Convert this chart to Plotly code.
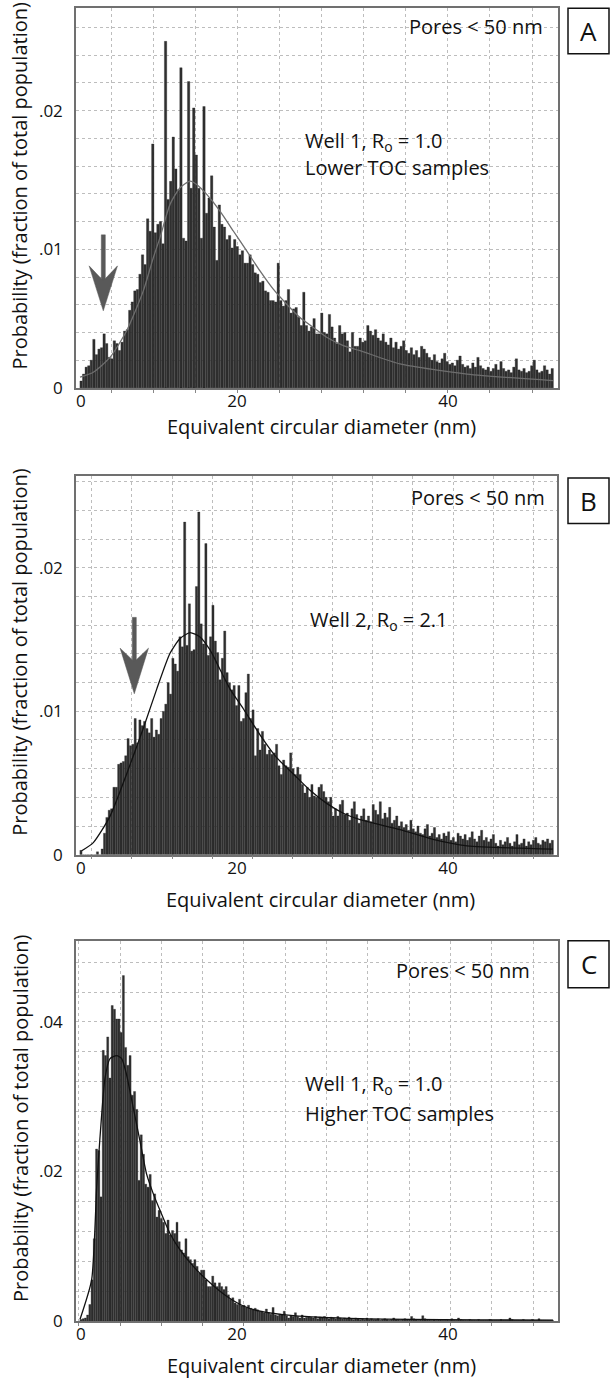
import plotly.graph_objects as go

W, H = 611, 1389

# ---------------- data ----------------
x_range = [4.74, 50.43]
bin_start = 5.1
bin_end = 50.0
x_tick_vals = [5.2, 20, 40]
x_tick_text = ["0", "20", "40"]

a_prob = [
    .0005, .001, .0015, .0016, .002, .0035, .0024, .0028, .0029, .0039,
    .0032, .0022, .0021, .0034, .0032, .0027, .0033, .0041, .0042, .0056,
    .0062, .007, .0071, .0082, .0096, .0089, .0122, .0113, .0176, .0112,
    .0118, .012, .0104, .025, .0136, .0149, .0181, .0158, .0143, .0231,
    .0108, .0106, .0221, .0144, .0202, .0168, .0144, .0108, .0203, .0126,
    .0137, .0153, .0116, .0092, .0132, .0118, .0116, .0107, .011, .0101,
    .0107, .0102, .0096, .0099, .009, .009, .0096, .0089, .0083, .0082,
    .0076, .0077, .007, .0069, .0063, .0063, .0062, .009, .0063, .0059,
    .0063, .0071, .0054, .0057, .0058, .0051, .0045, .0069, .0045, .0041,
    .0044, .005, .0039, .0039, .0054, .004, .0039, .0053, .0044, .0036,
    .0032, .0045, .0039, .004, .0034, .0026, .004, .003, .003, .0036,
    .0033, .0034,
    .0045, .0041, .0038, .0042, .0036, .0034, .0039, .0033, .0031, .0036,
    .0029, .0033, .0028, .0030, .0034, .0027, .0025, .0029, .0024, .0027,
    .0022, .0030, .0028, .0025, .0022, .0020, .0024, .0019, .0018, .0021,
    .0025, .0019, .0017, .0018, .0016, .0020, .0023, .0017, .0015, .0016,
    .0014, .0018, .0015, .0022, .0016, .0014, .0013, .0015, .0012, .0014,
    .0017, .0013, .0019, .0014, .0012, .0013, .0011, .0015, .0021, .0013,
    .0012, .0014, .0011, .0012, .0016, .0020, .0013, .0011, .0012, .0016,
    .0013, .0010, .0014,
]

b_prob = [
    .0003, 0, 0, 0, 0, 0, 0, .0002, 0,
    .0004, .0015, .0026, .0031, .0032, .0047, .0047, .0063, .0064, .0065,
    .0069, .0081, .0076, .0077, .0095, .0078, .0094, .009, .0093, .0088,
    .0085, .0095, .0082, .0087, .0084, .0095, .01, .0105, .012, .0112,
    .0137, .0133, .0128, .0152, .0145, .0232, .0146, .0175, .0142, .0143,
    .0187, .0239, .0161, .0147, .0217, .0139, .0152, .0174, .0149, .0141,
    .0122, .0137, .0156, .0127, .012, .0115, .0118, .0104, .0118, .0093,
    .0095, .0113, .0126, .0095, .0101, .0069, .0088, .0073, .0086, .0077,
    .007, .0073, .007, .0071, .0077, .0062, .0056, .0066, .0062, .0061,
    .0071, .006, .0056, .0061, .0056, .0049, .0043, .0047, .004, .0049,
    .0041, .004, .0047, .0049, .0044, .004, .0037, .004, .0027, .0032,
    .0027, .0035, .0038, .0028, .0029, .0024, .0032, .0037, .0028, .0022,
    .0027, .0032, .0024, .0027, .0023,
    .0035, .0031, .0028, .0037, .0025, .0029, .0026, .0033, .0022, .0024,
    .0027, .0020, .0023, .0019, .0021, .0017, .0024, .0018, .0016, .0020,
    .0015, .0014, .0018, .0021, .0013, .0015, .0019, .0012, .0014, .0011,
    .0015, .0013, .0016, .0010, .0012, .0009, .0015, .0013, .0011, .0014,
    .0010, .0012, .0016, .0011, .0009, .0013, .0017, .0010, .0012, .0009,
    .0011, .0014, .0008, .0006, .0010, .0007, .0009, .0012, .0008, .0006,
    .0009, .0014, .0007, .0008, .0011, .0006, .0009, .0007, .0010, .0012,
    .0008, .0007, .0010, .0009, .0011, .0008, .0010,
]

c_prob = [
    .0002, .0003, .0004, .0008, .0022, .0055, .011, .023, .0228, .0166,
    .0362, .0355, .038, .0325, .0422, .0417, .0404, .0404, .0386, .0462,
    .0366, .0342, .0355, .0302, .0307, .0283, .0188, .0249, .0223, .0183,
    .0179, .0196, .0161, .017, .0139, .0148, .0137, .0132, .0117, .0135,
    .0115, .0121, .0117, .0132, .0106, .0095, .0091, .011, .0086, .0082,
    .0077, .0082, .0073, .0064, .0068, .0068, .0055, .0046, .0046, .006,
    .0051, .0046, .0051, .0046, .0042, .0046, .0035, .0029, .0031, .0024,
    .0022, .0029, .002, .0021, .0018, .0021, .0017, .0015, .0017, .0015,
    .0013, .0013, .0011, .0016, .0011, .0009, .0018, .0008, .0007, .0009,
    .0008, .0013, .0007, .0004, .0007, .0006, .0011, .0006, .0004, .0008,
    .0004, .0005, .0006,
    .0005, .0004, .0006, .0003, .0005, .0004, .0006, .0004, .0003, .0005,
    .0004, .0003, .0006, .0004, .0003, .0004, .0003, .0005, .0003, .0002,
    .0004, .0003, .0002,
    .0003, .0002, .0004, .0002, .0003, .0002, .0002, .0003, .0001, .0002,
    .0003, .0002, .0001, .0002, .0004, .0002, .0002, .0001, .0002, .0003,
    .0002, .0002, .0006, .0003, .0002, .0001, .0002, .0007, .0003, .0002,
    .0002, .0001, .0002, .0001, .0002, .0002, .0001, .0001, .0002, .0001,
    .0003, .0001, .0001, .0004, .0002, .0001, .0001, .0001, .0002, .0001,
    .0001, .0001, .0002, .0001, .0001, .0001, .0001, .0002, .0001, .0001,
    .0001, .0001, .0002, .0001, .0001, .0001, .0004, .0002, .0001, .0001,
    .0001, .0001, .0002, .0001, .0001, .0001, .0002, .0001, .0001, .0003,
    .0001, .0001, .0001, .0001, .0001, .0001,
]

a_fit_x = [5.12, 6.38, 7.96, 9.54, 11.12, 12.07, 12.7, 13.65, 14.6, 15.55, 16.18, 17.13,
           18.39, 19.65, 20.92, 22.18, 23.44, 24.71, 25.97, 27.23, 28.5, 30.08, 31.66,
           35.45, 41.8, 49.95]
a_fit_y = [.00077, .00113, .0022, .00412, .0070, .0094, .01084, .01324, .01444, .01492,
           .01468, .01396, .01276, .01132, .00988, .00844, .00712, .00604, .00508, .00436,
           .00365, .00305, .00269, .00173, .001, .00053]

b_fit_x = [5.28, 6.38, 7.96, 9.54, 11.12, 12.39, 13.65, 14.6, 15.55, 16.49, 17.44, 18.39,
           19.34, 20.6, 22.18, 23.76, 25.34, 26.92, 28.5, 30.08, 31.66, 35.45, 38.58,
           41.8, 49.95]
b_fit_y = [.00027, .00084, .00267, .00563, .00882, .01155, .01405, .01508, .01549, .01519,
           .01428, .01292, .01155, .01018, .00836, .00677, .00563, .00449, .00358, .00289,
           .00244, .00175, .00107, .00062, .00039]

c_fit_x = [5.12, 6.22, 6.7, 7.01, 7.49, 7.96, 8.6, 9.07, 9.54, 10.17, 10.8, 11.44, 12.07,
           12.7, 13.65, 14.6, 15.86, 17.44, 19.02, 20.6, 22.18, 25.34, 31.66, 49.95]
c_fit_y = [.00022, .0055, .0179, .0245, .0325, .0351, .0355, .0351, .0329, .0285, .0241,
           .0196, .017, .0148, .0117, .0095, .0073, .0051, .0033, .002, .0013, .0007, .0003,
           .0001]

# ---------------- layout helpers ----------------
FONT = "Open Sans"
TXT = 20
TICK = 17


def fx(px):
    return px / W


def fy(py):
    return 1 - py / H


def nm(px):
    return (px - 26) / 10.55


panels = [
    dict(key="A", probs=a_prob, fx_=a_fit_x, fy_=a_fit_y, fitcolor="#6e6e6e",
         px=(76, 558), py=(8.3, 391), ymax=0.02739,
         yt=[0, 0.01, 0.02], ytt=["0", ".01", ".02"], ygrid=0.002,
         gx0=nm(111.7), gdx=42.03 / 10.55,
         well=["Well 1, R<sub>o</sub> = 1.0", "Lower TOC samples"], wellx=303, welly=[143, 169],
         pores=(545, 27), box=(568, 8.3, 609, 54.3),
         arrow=(103.3, 236.7, 268, 283, 313.3), xtitle_y=430, ytitle_y=188),
    dict(key="B", probs=b_prob, fx_=b_fit_x, fy_=b_fit_y, fitcolor="#111111",
         px=(76, 557), py=(479.3, 861.5), ymax=0.02645,
         yt=[0, 0.01, 0.02], ytt=["0", ".01", ".02"], ygrid=0.002,
         gx0=nm(91.7), gdx=40.15 / 10.55,
         well=["Well 2, R<sub>o</sub> = 2.1"], wellx=308, welly=[625],
         pores=(546.7, 501.7), box=(568, 481.7, 609, 527.7),
         arrow=(134.3, 622.3, 653.3, 667, 699.3), xtitle_y=907, ytitle_y=658),
    dict(key="C", probs=c_prob, fx_=c_fit_x, fy_=c_fit_y, fitcolor="#111111",
         px=(76, 558), py=(948.3, 1331.5), ymax=0.05086,
         yt=[0, 0.02, 0.04], ytt=["0", ".02", ".04"], ygrid=0.004,
         gx0=nm(120), gdx=41.33 / 10.55,
         well=["Well 1, R<sub>o</sub> = 1.0", "Higher TOC samples"], wellx=303, welly=[1093, 1122],
         pores=(531.7, 978.3), box=(568, 948.3, 609, 995.7),
         arrow=None, xtitle_y=1376, ytitle_y=1128),
]

fig = go.Figure()
annotations = []
shapes = []

for i, p in enumerate(panels):
    sfx = "" if i == 0 else str(i + 1)
    xa, ya = "x" + sfx, "y" + sfx
    n = len(p["probs"])
    w = (bin_end - bin_start) / n
    centers = [bin_start + w * (k + 0.5) for k in range(n)]
    fig.add_trace(go.Bar(x=centers, y=p["probs"], width=w * 0.92,
                         marker=dict(color="#303030", line=dict(color="#1a1a1a", width=0.3)),
                         xaxis=xa, yaxis=ya, showlegend=False, hoverinfo="skip"))
    fig.add_trace(go.Scatter(x=p["fx_"], y=p["fy_"], mode="lines",
                             line=dict(color=p["fitcolor"], width=1.3, shape="spline", smoothing=0.6),
                             xaxis=xa, yaxis=ya, showlegend=False, hoverinfo="skip"))

    x0p, x1p = p["px"]
    ytop, ybot = p["py"]
    xr = [nm(x0p), nm(x1p)]
    fig.update_layout(**{
        "xaxis" + sfx: dict(
            domain=[fx(x0p), fx(x1p)], range=xr, anchor=ya,
            tickvals=x_tick_vals, ticktext=x_tick_text, ticks="", showgrid=False,
            tickfont=dict(family=FONT, size=TICK, color="#111"), ticklabelstandoff=-3,
            showline=True, mirror=True, linecolor="#707070", linewidth=1.5,
            zeroline=False, fixedrange=True,
            minor=dict(tick0=p["gx0"], dtick=p["gdx"], showgrid=True, griddash="dot",
                       gridcolor="#bdbdbd", gridwidth=1, ticks="outside", ticklen=3,
                       tickcolor="#888"),
        ),
        "yaxis" + sfx: dict(
            domain=[fy(ybot), fy(ytop)], range=[0, p["ymax"]], anchor=xa,
            tickvals=p["yt"], ticktext=p["ytt"], ticks="", showgrid=False,
            tickfont=dict(family=FONT, size=TICK, color="#111"), ticklabelstandoff=8,
            showline=True, mirror=True, linecolor="#707070", linewidth=1.5,
            zeroline=False, fixedrange=True,
            minor=dict(tick0=0, dtick=p["ygrid"], showgrid=True, griddash="dot",
                       gridcolor="#bdbdbd", gridwidth=1),
        ),
    })

    # axis titles
    annotations.append(dict(text="Equivalent circular diameter (nm)", xref="paper", yref="paper",
                            x=fx((x0p + x1p) / 2 + 4), y=fy(p["xtitle_y"]), showarrow=False,
                            xanchor="center", yanchor="middle",
                            font=dict(family=FONT, size=TXT, color="#111")))
    annotations.append(dict(text="Probability (fraction of total population)", xref="paper",
                            yref="paper", x=fx(20), y=fy(p["ytitle_y"]), showarrow=False,
                            textangle=-90, xanchor="center", yanchor="middle",
                            font=dict(family=FONT, size=TXT, color="#111")))
    # pores note
    annotations.append(dict(text="Pores &lt; 50 nm", xref="paper", yref="paper",
                            x=fx(p["pores"][0]), y=fy(p["pores"][1]), showarrow=False,
                            xanchor="right", yanchor="middle",
                            font=dict(family=FONT, size=TXT, color="#111")))
    for line, yy in zip(p["well"], p["welly"]):
        annotations.append(dict(text=line, xref="paper", yref="paper", x=fx(p["wellx"]),
                                y=fy(yy), showarrow=False, xanchor="left", yanchor="middle",
                                font=dict(family=FONT, size=TXT, color="#111")))
    # panel letter box
    bx0, by0, bx1, by1 = p["box"]
    shapes.append(dict(type="rect", xref="paper", yref="paper", x0=fx(bx0), x1=fx(bx1),
                       y0=fy(by1), y1=fy(by0), line=dict(color="#111", width=1.5),
                       fillcolor="white"))
    annotations.append(dict(text=p["key"], xref="paper", yref="paper", x=fx((bx0 + bx1) / 2),
                            y=fy((by0 + by1) / 2), showarrow=False, xanchor="center",
                            yanchor="middle", font=dict(family=FONT, size=26, color="#111")))
    # arrow
    if p["arrow"]:
        ax, atop, acorner, anotch, atip = p["arrow"]
        hw, sw = 14.2, 2.0
        pts_shaft = [(ax - sw, atop), (ax + sw, atop), (ax + sw, anotch + 2), (ax - sw, anotch + 2)]
        pts_head = [(ax - hw, acorner), (ax, anotch), (ax + hw, acorner), (ax, atip)]
        for pts in (pts_shaft, pts_head):
            path = "M " + " L ".join(f"{fx(a):.5f},{fy(b):.5f}" for a, b in pts) + " Z"
            shapes.append(dict(type="path", xref="paper", yref="paper", path=path,
                               fillcolor="#595959", line=dict(color="#595959", width=0.5)))

fig.update_layout(
    width=W, height=H, margin=dict(l=0, r=0, t=0, b=0),
    paper_bgcolor="white", plot_bgcolor="white",
    bargap=0.1, showlegend=False,
    annotations=annotations, shapes=shapes,
    font=dict(family=FONT, color="#111"),
)

fig.write_html("out.html")
